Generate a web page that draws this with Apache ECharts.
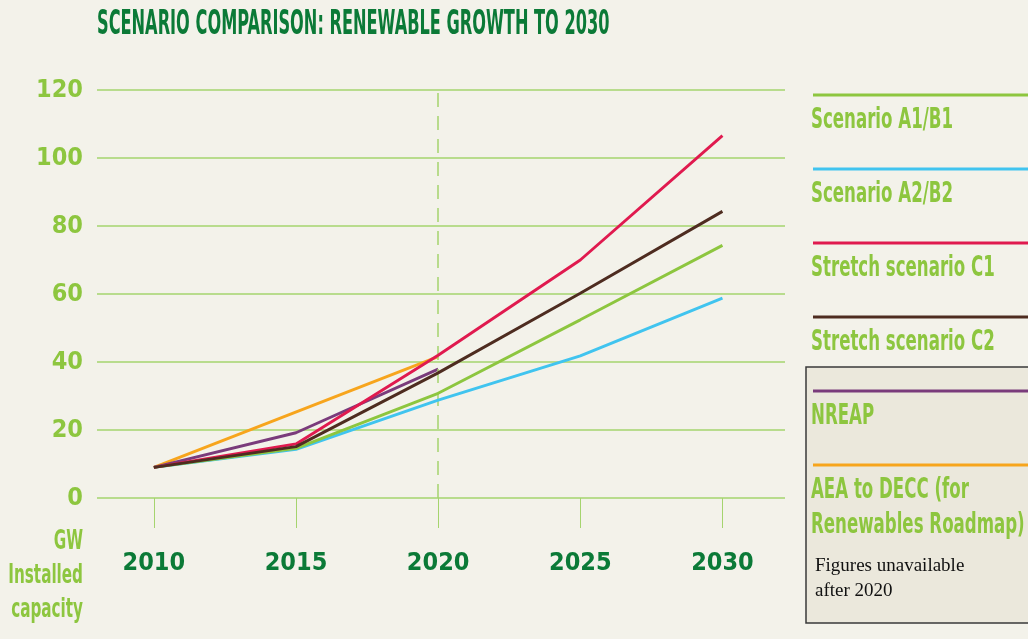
<!DOCTYPE html>
<html>
<head>
<meta charset="utf-8">
<script src="https://cdn.jsdelivr.net/npm/echarts@6/dist/echarts.min.js"></script>
<style>
  html, body { margin: 0; padding: 0; background: #f3f2ea; }
  #chart { width: 1028px; height: 639px; }
</style>
</head>
<body>
<div id="chart"></div>
<script>
// data (GW installed capacity)
var years = [2010, 2015, 2020, 2025, 2030];
var yTicks = [0, 20, 40, 60, 80, 100, 120];

var seriesNames = ['Scenario A1/B1', 'Scenario A2/B2', 'Stretch scenario C1', 'Stretch scenario C2', 'NREAP', 'AEA to DECC (for\nRenewables Roadmap)'];
var seriesColors = ['#8dc63f', '#40c4ef', '#e01a4f', '#4e2c20', '#7a3b7b', '#f7a51d'];

var scenarioA1B1 = [9, 14.6, 30.8, 52.4, 74.3];
var scenarioA2B2 = [9, 14.3, 28.8, 41.8, 58.8];
var stretchC1 = [9, 15.9, 42.0, 70.0, 106.6];
var stretchC2 = [9, 15.1, 36.8, 60.2, 84.3];
var nreap = [9, 19.2, 37.9, null, null];
var aeaDecc = [9, null, 41.6, null, null];

var seriesValues = [scenarioA1B1, scenarioA2B2, stretchC1, stretchC2, nreap, aeaDecc];
var drawOrder = [5, 4, 1, 0, 2, 3]; // brown ends up on top, like the original

var narrow = "'Liberation Sans Narrow', 'DejaVu Sans Condensed', sans-serif";
var lightGreen = '#8dc63f';
var gridGreen = '#a5d46e';

function pairs(vals) {
  var out = [];
  for (var i = 0; i < years.length; i++) {
    if (vals[i] != null) out.push([years[i], vals[i]]);
  }
  return out;
}

var series = drawOrder.map(function (i, k) {
  var s = {
    name: seriesNames[i],
    type: 'line',
    data: pairs(seriesValues[i]),
    symbol: 'none',
    connectNulls: true,
    lineStyle: { color: seriesColors[i], width: 2.9 },
    itemStyle: { color: seriesColors[i] },
    z: 3 + k
  };
  if (k === 0) {
    s.markLine = {
      silent: true,
      symbol: 'none',
      label: { show: false },
      lineStyle: { color: gridGreen, type: [14, 9], width: 1.5 },
      data: [{ xAxis: 2020 }]
    };
  }
  return s;
});

// legend drawn on the right: coloured line above each name
var graphics = [];
graphics.push({
  type: 'text', x: 97, y: 9, z: 10,
  scaleX: 0.545, originX: 0,
  style: { text: 'SCENARIO COMPARISON: RENEWABLE GROWTH TO 2030', fill: '#0b7a37', font: 'bold 33px ' + narrow, textVerticalAlign: 'top' }
});
// y axis unit, under the 0 label
graphics.push({
  type: 'text', x: 83, y: 525, z: 10,
  scaleX: 0.65, originX: 0,
  style: { text: 'GW\nInstalled\ncapacity', fill: lightGreen, font: 'bold 26px ' + narrow, lineHeight: 34, textAlign: 'right', textVerticalAlign: 'top' }
});
graphics.push({
  type: 'rect', z: 1,
  shape: { x: 806, y: 367, width: 240, height: 256 },
  style: { fill: '#ebe8dc', stroke: '#3a3a3a', lineWidth: 1.5 }
});
seriesNames.forEach(function (name, i) {
  var y = 95 + i * 74;
  graphics.push({
    type: 'line', z: 5,
    shape: { x1: 813, y1: y, x2: 1028, y2: y },
    style: { stroke: seriesColors[i], lineWidth: 3 }
  });
  graphics.push({
    type: 'text', z: 5,
    x: 811, y: y + 8, scaleX: 0.66, originX: 0,
    style: { text: name, fill: lightGreen, font: 'bold 28px ' + narrow, lineHeight: 35, textVerticalAlign: 'top' }
  });
});
graphics.push({
  type: 'text', z: 5, x: 815, y: 554,
  style: { text: 'Figures unavailable\nafter 2020', fill: '#111', font: '19px "Liberation Serif", serif', lineHeight: 25 }
});

var chart = echarts.init(document.getElementById('chart'));
chart.setOption({
  backgroundColor: '#f3f2ea',
  animation: false,
  grid: { left: 97, right: 243, top: 90, bottom: 141, outerBoundsMode: 'none', containLabel: false },
  xAxis: {
    type: 'value',
    min: 2008,
    max: 2032.2,
    offset: 9,
    axisLine: { show: false },
    splitLine: { show: false },
    axisTick: { show: true, customValues: years, length: 30, lineStyle: { color: gridGreen, width: 1 } },
    axisLabel: {
      customValues: years, margin: 44,
      formatter: function (v) { return String(v); },
      color: '#0b7a37', fontFamily: narrow, fontWeight: 'bold', fontSize: 25
    }
  },
  yAxis: {
    type: 'value',
    min: yTicks[0],
    max: yTicks[yTicks.length - 1],
    interval: 20,
    axisLine: { show: false },
    axisTick: { show: false },
    splitLine: { lineStyle: { color: gridGreen, width: 1.5 } },
    axisLabel: { color: lightGreen, fontFamily: narrow, fontWeight: 'bold', fontSize: 25, margin: 14 }
  },
  graphic: graphics,
  series: series
});
</script>
</body>
</html>
